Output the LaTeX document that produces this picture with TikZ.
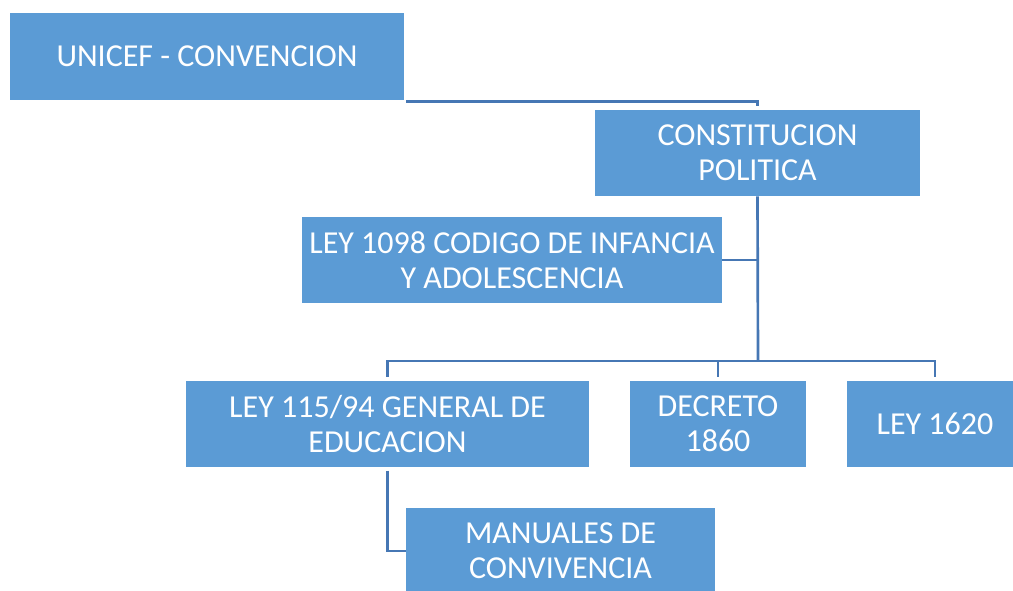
\documentclass[tikz,border=0pt]{standalone}
\usepackage{fontspec}
\setmainfont{Carlito}
\definecolor{boxblue}{HTML}{5B9BD5}
\definecolor{lineblue}{HTML}{4677B4}
\begin{document}
\begin{tikzpicture}[x=0.75pt,y=-0.75pt,
  orgbox/.style={fill=boxblue, text=white, inner sep=0pt, align=center,
    minimum height=86*0.75pt,
    font=\fontsize{24pt}{26.3pt}\selectfont},
  link/.style={draw=lineblue, line width=2pt}]
\useasboundingbox (0,0) rectangle (1013,591);
\node[orgbox, minimum width=394*0.75pt, minimum height=87*0.75pt] (unicef) at (207,56.5) {UNICEF - CONVENCION};
\node[orgbox, minimum width=325*0.75pt] (const) at (757.5,153) {CONSTITUCION\\POLITICA};
\node[orgbox, minimum width=420*0.75pt] (ley1098) at (512,260) {LEY 1098 CODIGO DE INFANCIA\\Y ADOLESCENCIA};
\node[orgbox, minimum width=403*0.75pt] (ley115) at (387.5,424) {LEY 115/94 GENERAL DE\\EDUCACION};
\node[orgbox, minimum width=176*0.75pt] (decreto) at (718,424) {DECRETO\\1860};
\node[orgbox, minimum width=176*0.75pt] (ley1620) at (935,424) {LEY 1620};
\node[orgbox, minimum width=309*0.75pt] (manuales) at (560.5,551) {MANUALES DE\\CONVIVENCIA};
\coordinate (bus) at (758,361);
\coordinate (unicefend) at ([xshift=1.5pt,yshift=-0.75pt]unicef.south east);
\draw[link] (unicefend) -| ([yshift=2.5pt]const.north);
\draw[link] (const.south) -- (bus);
\draw[link] (ley1098.east) -- (ley1098.east -| bus);
\draw[link] (bus) -| ([yshift=2.5pt]ley115.north);
\draw[link] (bus) -| ([yshift=2.5pt]decreto.north);
\draw[link] (bus) -| ([yshift=2.5pt]ley1620.north);
\draw[link] ([yshift=-2.5pt]ley115.south) |- (manuales.west);
\end{tikzpicture}
\end{document}
